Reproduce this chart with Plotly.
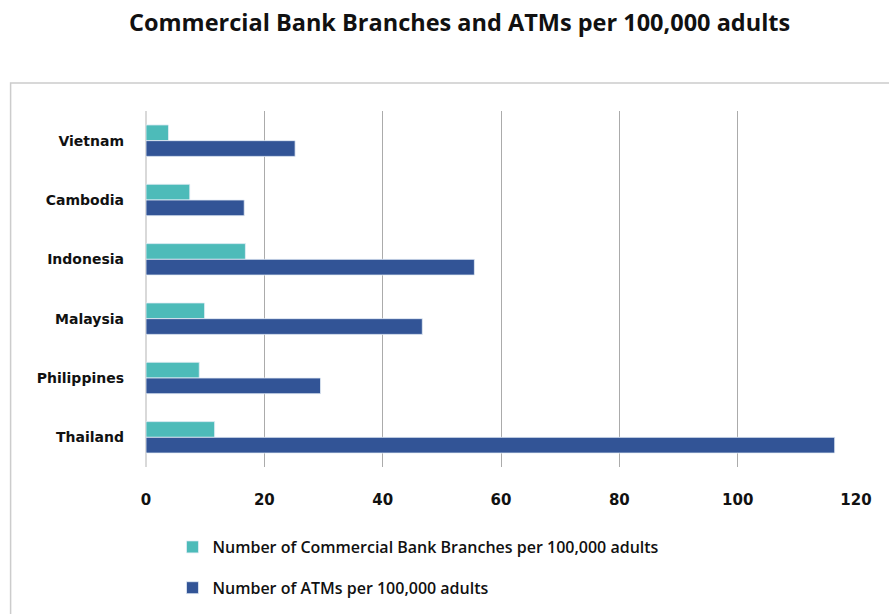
import plotly.graph_objects as go

countries = ["Vietnam", "Cambodia", "Indonesia", "Malaysia", "Philippines", "Thailand"]
branches = [3.8, 7.4, 16.8, 9.9, 9.0, 11.6]
atms = [25.2, 16.6, 55.5, 46.7, 29.5, 116.4]
x_ticks = [0, 20, 40, 60, 80, 100, 120]

W, H = 889, 614
L, R, T, B = 145.5, 33, 111, 147
pw, ph = W - L - R, H - T - B

fig = go.Figure()
fig.add_trace(go.Bar(
    y=countries, x=branches, orientation="h",
    name="Number of Commercial Bank Branches per 100,000 adults",
    marker=dict(color="#4DBBB9", line=dict(color="#E6EEF6", width=0.8)),
    legendgroup="a",
))
fig.add_trace(go.Bar(
    y=countries, x=atms, orientation="h",
    name="Number of ATMs per 100,000 adults",
    marker=dict(color="#325496", line=dict(color="#E6EEF6", width=0.8)),
    legendgroup="b",
))

# light frame around the chart body
fig.add_shape(type="rect", xref="paper", yref="paper",
              x0=(10 - L) / pw, x1=1.2, y0=-0.6, y1=(T + ph - 83) / ph,
              line=dict(color="#CCCCCC", width=1.5), fillcolor="rgba(0,0,0,0)",
              layer="below")

fig.update_layout(
    width=W, height=H,
    margin=dict(l=L, r=R, t=T, b=B, pad=0, autoexpand=False),
    plot_bgcolor="white", paper_bgcolor="white",
    barmode="group", bargap=0.47, bargroupgap=0,
    title=dict(text="<b>Commercial Bank Branches and ATMs per 100,000 adults</b>",
               x=0.517, xanchor="center", y=0.963, yanchor="middle",
               font=dict(family="Open Sans", size=23.5, color="#111111")),
    xaxis=dict(range=[0, 120], tickvals=x_ticks, showgrid=True,
               gridcolor="#ABABAB", gridwidth=1, zeroline=True,
               zerolinecolor="#D9D9D9", zerolinewidth=1.5,
               showline=False, ticks="", ticklabelstandoff=22,
               tickfont=dict(family="DejaVu Sans", size=15, color="#111111",
                             weight="bold")),
    yaxis=dict(autorange="reversed", showgrid=False, ticks="",
               ticklabelstandoff=21,
               tickfont=dict(family="DejaVu Sans", size=14, color="#111111",
                             weight="bold")),
    legend=dict(x=(172 - L) / pw, xanchor="left", y=(T + ph - 530) / ph,
                yanchor="top", orientation="v", tracegroupgap=17,
                font=dict(family="Open Sans", size=16, color="#111111",
                          weight=600),
                itemwidth=30),
    showlegend=True,
)

fig.write_html("out.html")
